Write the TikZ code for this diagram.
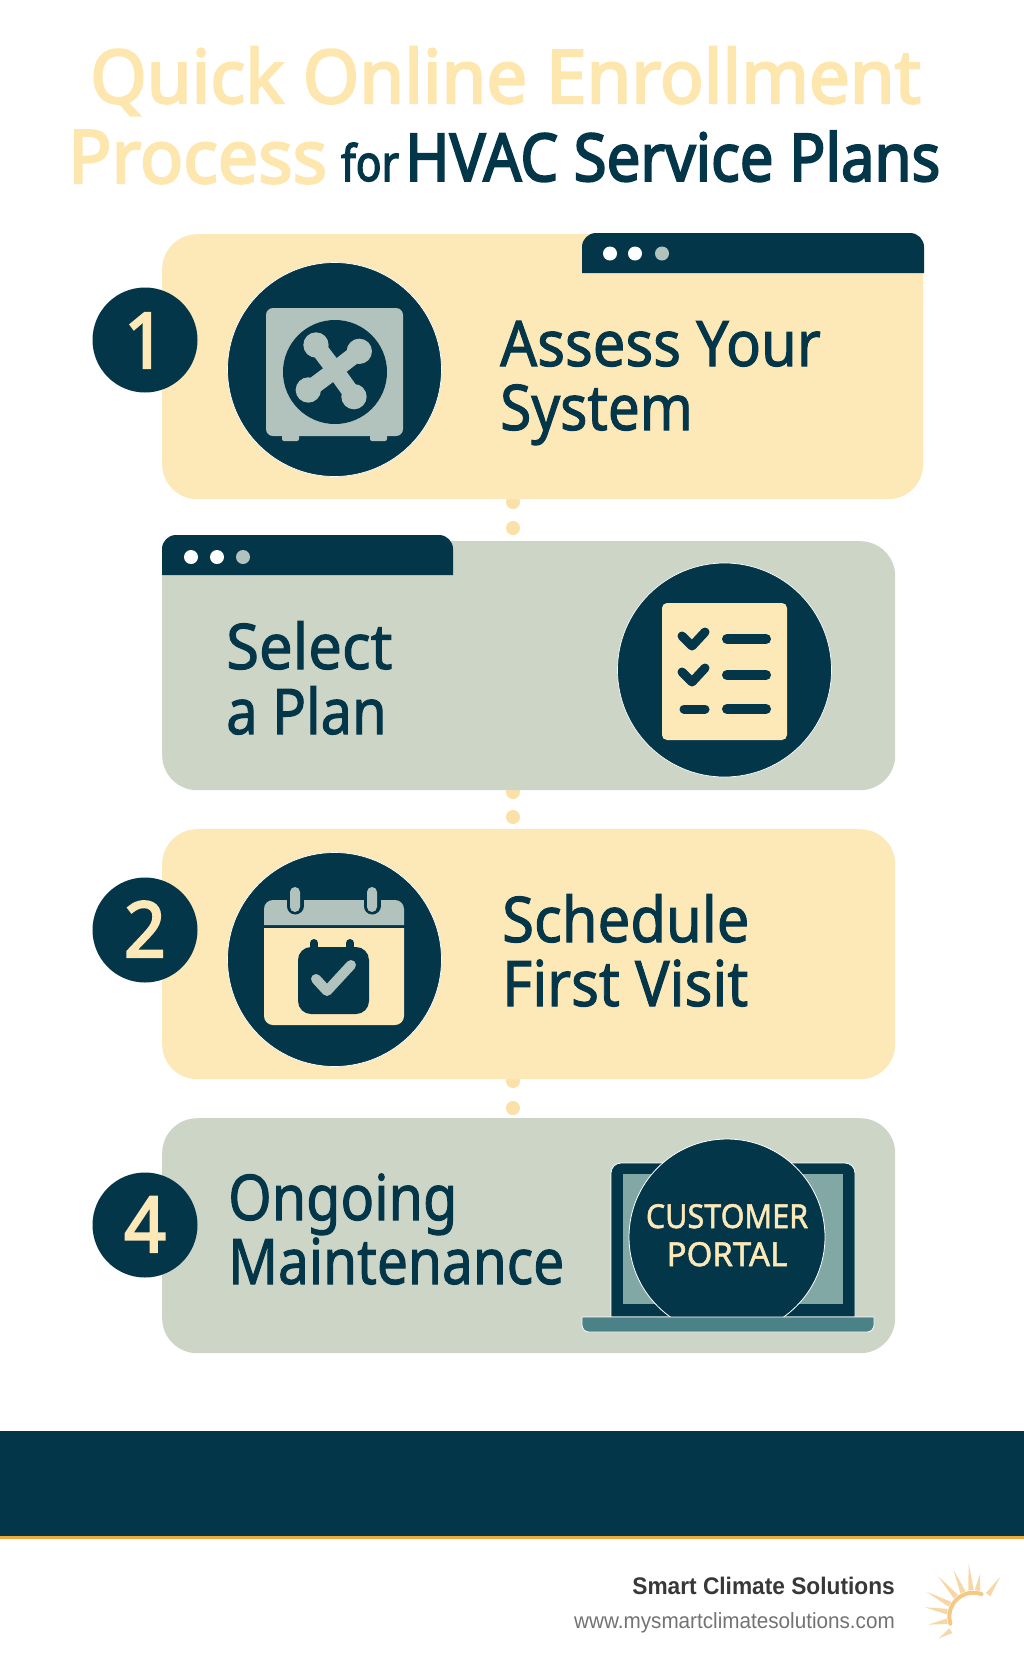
\documentclass[tikz,border=0pt]{standalone}
\usepackage{fontspec}
\usepackage{graphicx}
\setmainfont{Noto Sans}
\newfontfamily\bodyf[FakeBold=1.6]{Noto Sans}
\newfontfamily\headf[FakeBold=3]{Noto Sans}
\newfontfamily\footf{Liberation Sans}
\definecolor{dark}{HTML}{04364A}
\definecolor{cream}{HTML}{FDE8B8}
\definecolor{titlecream}{HTML}{FDE7AE}
\definecolor{sage}{HTML}{CCD5C6}
\definecolor{unit}{HTML}{B2C3BD}
\definecolor{dotc}{HTML}{FBE0A8}
\definecolor{teal}{HTML}{4A8288}
\definecolor{screen}{HTML}{82A8A5}
\definecolor{sun}{HTML}{EFB75C}
\definecolor{orangeline}{HTML}{EDA93C}
\newcommand{\tx}[3]{\scalebox{#2}[1]{\fontsize{#1}{#1}\selectfont #3}}
\tikzset{
  x=1pt,y=-1pt,
  card/.style={rounded corners=35pt,inner sep=0pt,anchor=north west},
  ycard/.style={card,fill=cream},
  gcard/.style={card,fill=sage},
  badge/.style={circle,fill=dark,minimum size=105pt,inner sep=0pt},
  iconcirc/.style={circle,fill=dark,draw=white,line width=0.7pt,minimum size=214pt,inner sep=0pt},
  connectdot/.style={circle,fill=dotc,minimum size=14pt,inner sep=0pt},
  tabdot/.style={circle,fill=white,minimum size=14pt,inner sep=0pt},
  tabdotg/.style={circle,fill=unit,minimum size=14pt,inner sep=0pt},
  lbl/.style={anchor=base west,inner sep=0pt,text=dark},
  num/.style={anchor=base,inner sep=0pt,text=cream},
  iconline/.style={line width=10pt,line cap=round,line join=round,draw=dark},
  fanblade/.style={draw=unit,line width=17pt,line cap=round},
  fanlobe/.style={fill=unit}
}
\begin{document}
\begin{tikzpicture}
\useasboundingbox (0,0) rectangle (1024,1666);
\fill[white] (0,0) rectangle (1024,1666);
% title
\node[anchor=base west,inner sep=0pt,text=titlecream] (t1) at (90,103) {\tx{74}{0.98}{\headf Quick Online Enrollment}};
\node[anchor=base west,inner sep=0pt,text=titlecream] (t2) at (68,183) {\tx{74}{0.97}{\headf Process}};
\node[anchor=base west,inner sep=0pt,text=dark] (t3) at (341,181) {\tx{50}{0.85}{\headf for}};
\node[anchor=base west,inner sep=0pt,text=dark] (t4) at (405,181) {\tx{66}{0.908}{\headf HVAC Service Plans}};
% connector dots
\node[connectdot] (d1a) at (513,502) {};
\node[connectdot] (d1b) at (513,528) {};
\node[connectdot] (d2a) at (513,792) {};
\node[connectdot] (d2b) at (513,817) {};
\node[connectdot] (d3a) at (513,1081) {};
\node[connectdot] (d3b) at (513,1108) {};
% cards
\node[ycard,minimum width=761pt,minimum height=265pt] (c1) at (162,234) {};
\node[gcard,minimum width=733pt,minimum height=249pt] (c2) at (162,541) {};
\node[ycard,minimum width=733pt,minimum height=250pt] (c3) at (162,829) {};
\node[gcard,minimum width=733pt,minimum height=235pt] (c4) at (162,1118) {};
% tabs
\fill[dark] (582,273) [rounded corners=14pt] -- (582,233) -- (924,233) [sharp corners] -- (924,273) -- cycle;
\node[tabdot] (a1) at (610,253.5) {};
\node[tabdot] (a2) at (635,253.5) {};
\node[tabdotg] (a3) at (662,253.5) {};
\fill[dark] (162,575) [rounded corners=14pt] -- (162,535) -- (453,535) [sharp corners] -- (453,575) -- cycle;
\node[tabdot] (b1) at (191,557) {};
\node[tabdot] (b2) at (217,557) {};
\node[tabdotg] (b3) at (243,557) {};
% badges
\node[badge] (n1) at (145,340) {};
\node[badge] (n2) at (145,930) {};
\node[badge] (n4) at (145,1225) {};
\node[num] at (145,368) {\tx{77}{0.95}{\headf 1}};
\node[num] at (145,957) {\tx{77}{0.95}{\headf 2}};
\node[num] at (145,1252) {\tx{77}{0.95}{\headf 4}};
% icon 1 : outdoor unit
\node[iconcirc] (i1) at (334.5,369.5) {};
\fill[unit,rounded corners=7pt] (266,308) rectangle (403,436);
\fill[unit,rounded corners=2pt] (282,432) rectangle (299,441);
\fill[unit,rounded corners=2pt] (370,432) rectangle (387,441);
\fill[dark] (335,372) circle (52);
\begin{scope}[shift={(80,220)},x=0.3333pt,y=-0.3333pt]
\coordinate (hub) at (765,450);
\coordinate (tl) at (708,375);
\coordinate (tr) at (838,394);
\coordinate (bl) at (685,510);
\coordinate (br) at (822,530);
\draw[fanblade] (hub) -- (tl);
\draw[fanblade] (hub) -- (tr);
\draw[fanblade] (hub) -- (bl);
\draw[fanblade] (hub) -- (br);
\fill[fanlobe] (tl) circle (38);
\fill[fanlobe] (tr) circle (38);
\fill[fanlobe] (bl) circle (38);
\fill[fanlobe] (br) circle (38);
\end{scope}
% icon 2 : checklist
\node[iconcirc] (i2) at (724.5,670) {};
\fill[cream,rounded corners=5pt] (662,603) rectangle (787,740);
\draw[iconline,line width=9pt] (682,636) -- (692,646) -- (705,632);
\draw[iconline,line width=9pt] (682,672) -- (692,682) -- (705,668);
\draw[iconline] (727,639) -- (766,639);
\draw[iconline] (727,675) -- (766,675);
\draw[iconline,line width=9pt] (684,709) -- (705,709);
\draw[iconline] (727,709) -- (766,709);
% icon 3 : calendar
\node[iconcirc] (i3) at (334.5,959.5) {};
\fill[unit] (264,925) [rounded corners=9pt] -- (264,900) -- (404,900) [sharp corners] -- (404,925) -- cycle;
\fill[cream] (264,928) [sharp corners] -- (404,928) [rounded corners=9pt] -- (404,1025) -- (264,1025) [sharp corners] -- cycle;
\draw[dark,line width=17pt,line cap=round] (295,895) -- (295,906);
\draw[dark,line width=17pt,line cap=round] (372,895) -- (372,906);
\fill[unit,rounded corners=5pt] (290,887) rectangle (300,912);
\fill[unit,rounded corners=5pt] (367,887) rectangle (377,912);
\fill[dark,rounded corners=13pt] (298,947) rectangle (369,1014);
\draw[dark,line width=8pt,line cap=round] (314,943) -- (314,950);
\draw[dark,line width=8pt,line cap=round] (350,943) -- (350,950);
\draw[unit,line width=10pt,line cap=round,line join=round] (316,979) -- (327,991) -- (351,965);
% icon 4 : laptop
\fill[dark,draw=white,line width=0.8pt] (611,1317) [rounded corners=10pt] -- (611,1163) -- (855,1163) [sharp corners] -- (855,1317) -- cycle;
\fill[screen] (623,1174) rectangle (843,1304);
\begin{scope}
\clip (600,1130) rectangle (870,1317);
\fill[dark,draw=white,line width=0.8pt] (727,1237) circle (98);
\end{scope}
\fill[teal,draw=white,line width=0.8pt] (582,1317) [sharp corners] -- (874,1317) [rounded corners=7pt] -- (874,1332) -- (582,1332) [sharp corners] -- cycle;
\node[anchor=base,inner sep=0pt,text=cream] (p1) at (727,1228) {\tx{33}{0.925}{\bodyf CUSTOMER}};
\node[anchor=base,inner sep=0pt,text=cream] (p2) at (727,1266) {\tx{33}{1.0}{\bodyf PORTAL}};
% step labels
\node[lbl] (l1a) at (500,366) {\tx{63}{0.92}{\bodyf Assess Your}};
\node[lbl] (l1b) at (500,430) {\tx{63}{0.90}{\bodyf System}};
\node[lbl] (l2a) at (226,669) {\tx{63}{0.95}{\bodyf Select}};
\node[lbl] (l2b) at (226,734) {\tx{63}{0.89}{\bodyf a Plan}};
\node[lbl] (l3a) at (502,942) {\tx{63}{0.92}{\bodyf Schedule}};
\node[lbl] (l3b) at (502,1006) {\tx{63}{0.92}{\bodyf First Visit}};
\node[lbl] (l4a) at (228,1220) {\tx{63}{0.885}{\bodyf Ongoing}};
\node[lbl] (l4b) at (228,1284) {\tx{63}{0.873}{\bodyf Maintenance}};
% footer
\fill[dark] (0,1431) rectangle (1024,1536);
\fill[orangeline] (0,1536) rectangle (1024,1539);
\node[anchor=base east,inner sep=0pt,text=black!78] (f1) at (895,1594) {\tx{24}{0.946}{\footf\bfseries Smart Climate Solutions}};
\node[anchor=base east,inner sep=0pt,text=black!55] (f2) at (895,1628) {\tx{22}{0.94}{\footf www.mysmartclimatesolutions.com}};
\begin{scope}[shift={(973.33,1616.67)},x=0.3333pt,y=-0.3333pt]
\foreach \a/\l in {56/144,81/131,95/160,113/152,131/160,152/159,169/148,190/137,212/123}{
  \fill[sun,opacity=0.55] (-\a-6:80) -- (-\a:\l) -- (-\a+6:80) -- cycle;
}
\draw[sun,line width=4pt,line cap=round,opacity=0.75] (-70:72) arc[start angle=-70,end angle=-197,radius=72];
\end{scope}
\end{tikzpicture}
\end{document}
